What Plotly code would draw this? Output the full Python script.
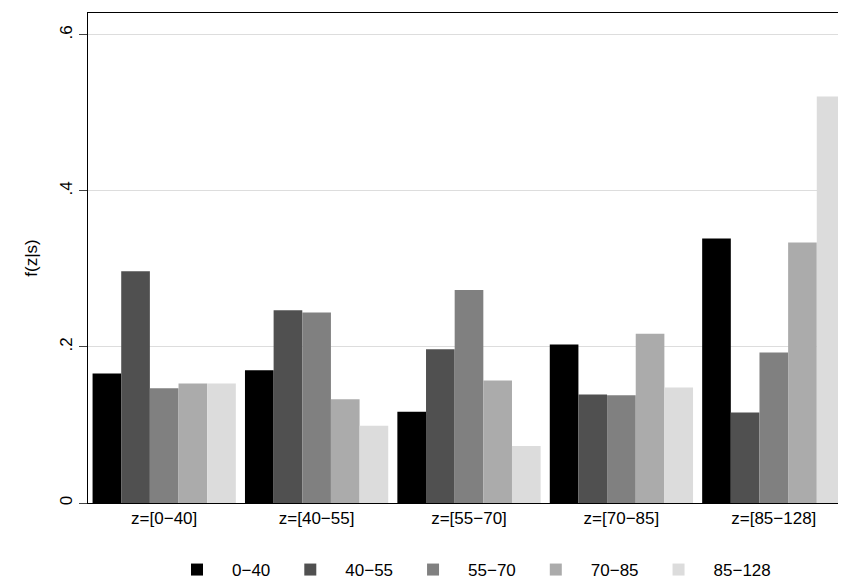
import plotly.graph_objects as go

groups = ["z=[0\u221240]", "z=[40\u221255]", "z=[55\u221270]", "z=[70\u221285]", "z=[85\u2212128]"]
series = ["0\u221240", "40\u221255", "55\u221270", "70\u221285", "85\u2212128"]
v0_40 = [0.166, 0.170, 0.117, 0.203, 0.339]
v40_55 = [0.297, 0.247, 0.197, 0.139, 0.116]
v55_70 = [0.147, 0.244, 0.273, 0.138, 0.193]
v70_85 = [0.153, 0.133, 0.157, 0.217, 0.334]
v85_128 = [0.153, 0.099, 0.073, 0.148, 0.521]
colors = ["#000000", "#505050", "#808080", "#ababab", "#dcdcdc"]

fig = go.Figure()
for name, vals, c in zip(series, [v0_40, v40_55, v55_70, v70_85, v85_128], colors):
    fig.add_trace(go.Bar(x=groups, y=vals, name=name, marker=dict(color=c, line=dict(width=0))))

fig.update_layout(
    width=846, height=584, barmode="group", bargap=0.06, bargroupgap=0,
    plot_bgcolor="white", paper_bgcolor="white",
    font=dict(family="Liberation Sans, Arial", size=17, color="black"),
    margin=dict(l=80, r=4, t=5, b=80),
    legend=dict(orientation="h", x=0.5, xanchor="center", y=-0.1, yanchor="top",
                font=dict(size=17), itemwidth=60, traceorder="normal"),
    xaxis=dict(showline=True, linecolor="black", mirror=True, ticks="", tickfont=dict(size=17)),
    yaxis=dict(range=[0, 0.628], tickvals=[0, 0.2, 0.4, 0.6], ticktext=["0", ".2", ".4", ".6"],
               tickangle=-90, ticks="outside", ticklen=8, showgrid=True, gridcolor="#dddddd",
               showline=True, linecolor="black", mirror=True, zeroline=False,
               title=dict(text="f(z|s)", font=dict(size=17))),
)
fig.write_html("out.html")
